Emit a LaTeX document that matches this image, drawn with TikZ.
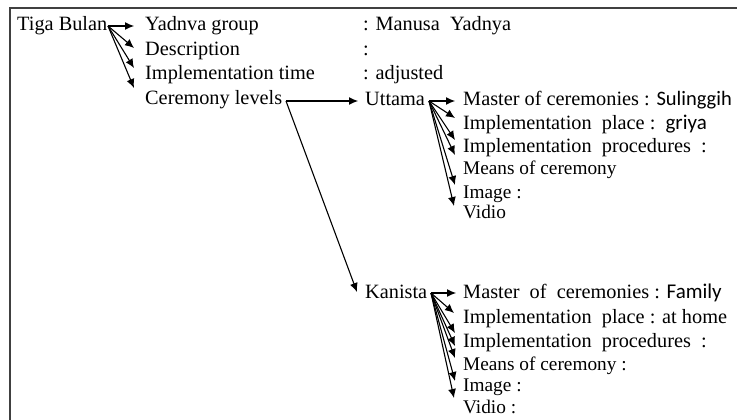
\documentclass[tikz,border=0pt]{standalone}
\usepackage{fontspec}
\setmainfont{Liberation Serif}
\newfontfamily\calfont{Carlito}
\usetikzlibrary{arrows.meta}
\begin{document}
\begin{tikzpicture}[x=1pt,y=-1pt,
  txt/.style={anchor=base west,inner sep=0pt,font=\fontsize{20.3}{23}\selectfont},
  sml/.style={anchor=base west,inner sep=0pt,font=\fontsize{19.3}{21}\selectfont},
  arr/.style={line width=1.1pt,-{Latex[length=9pt,width=8pt]}},
  frame/.style={line width=2pt,black!75}]
\useasboundingbox (0,0) rectangle (737,420);
\draw[frame] (10,421) -- (10,8) -- (738,8);
% first level
\node[txt] (tb) at (17,31) {Tiga Bulan};
\node[txt] (yg) at (145,31) {Yadnva group};
\node[txt] (ds) at (145,56) {Description};
\node[txt] (it) at (145,80) {Implementation time};
\node[txt] (cl) at (145,104) {Ceremony levels};
\node[txt] (v1) at (363,31) {: Manusa\ \ Yadnya};
\node[txt] (v2) at (363,56) {:};
\node[txt] (v3) at (363,80) {: adjusted};
\coordinate (tbs) at (108,26);
\coordinate (t1) at (134,26);
\coordinate (t2) at (134,48);
\coordinate (t3) at (134,68);
\coordinate (t4) at (134,88);
\foreach \t in {t1,t2,t3,t4} \draw[arr] (tbs) -- (\t);
% levels
\node[txt] (ut) at (365,106) {Uttama};
\node[txt] (ka) at (365,298) {Kanista};
\coordinate (cls) at (286,101);
\coordinate (ut0) at (358,101);
\coordinate (ka0) at (357,292);
\draw[arr] (cls) -- (ut0);
\draw[arr] (cls) -- (ka0);
% Uttama items
\node[txt] (u1) at (463,106) {Master of ceremonies : \calfont\fontsize{20.5}{23}\selectfont Sulinggih};
\node[txt] (u2) at (463,129) {Implementation\ \ place\ :\ \ \calfont\fontsize{21}{23}\selectfont griya};
\node[txt] (u3) at (463,153) {Implementation\ \ procedures\ \ :};
\node[sml] (u4) at (463,175) {Means of ceremony};
\node[sml] (u5) at (463,198) {Image :};
\node[sml] (u6) at (463,218) {Vidio};
\coordinate (uts) at (429,101);
\coordinate (ua) at (455,101);
\coordinate (ub) at (455,118);
\coordinate (uc) at (455,140);
\coordinate (ud) at (455,155);
\coordinate (ue) at (455,185);
\coordinate (uf) at (454,206);
\foreach \t in {ua,ub,uc,ud,ue,uf} \draw[arr] (uts) -- (\t);
% Kanista items
\node[txt] (k1) at (463,298) {Master\ \ of\ \ ceremonies\ : \calfont\fontsize{21}{23}\selectfont Family};
\node[txt] (k2) at (463,323) {Implementation\ \ place : at home};
\node[txt] (k3) at (463,347) {Implementation\ \ procedures\ \ :};
\node[sml] (k4) at (463,370) {Means of ceremony :};
\node[sml] (k5) at (463,391) {Image :};
\node[sml] (k6) at (463,413) {Vidio\ :};
\coordinate (kas) at (431,293);
\coordinate (ka1) at (456,293);
\coordinate (ka2) at (454,313);
\coordinate (ka3) at (455,333);
\coordinate (ka4) at (455,346);
\coordinate (ka5) at (455,358);
\coordinate (ka6) at (455,381);
\coordinate (ka7) at (454,398);
\foreach \t in {ka1,ka2,ka3,ka4,ka5,ka6,ka7} \draw[arr] (kas) -- (\t);
\end{tikzpicture}
\end{document}
